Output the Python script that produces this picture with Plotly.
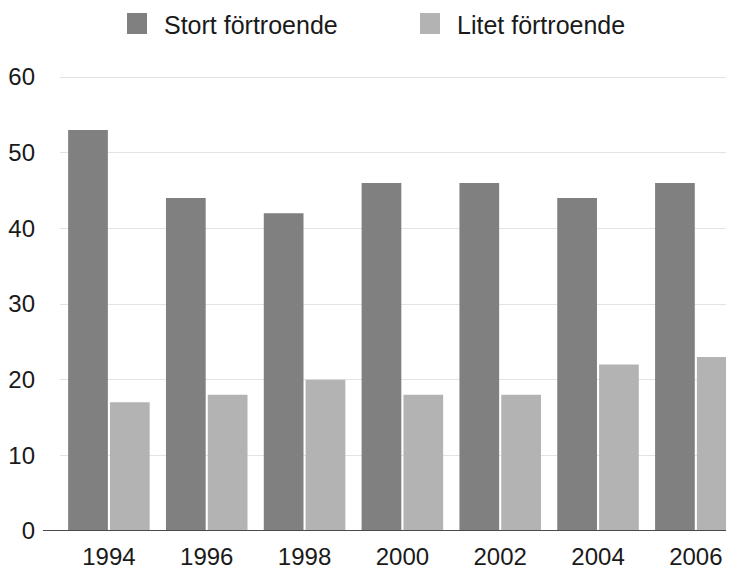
import plotly.graph_objects as go

years = ["1994", "1996", "1998", "2000", "2002", "2004", "2006"]
stort = [53, 44, 42, 46, 46, 44, 46]
litet = [17, 18, 20, 18, 18, 22, 23]
series_names = ["Stort förtroende", "Litet förtroende"]
y_ticks = [0, 10, 20, 30, 40, 50, 60]

dark = "#808080"
light = "#b3b3b3"
font_family = "Liberation Sans, Arial, Helvetica, sans-serif"

fig = go.Figure()
fig.add_trace(go.Bar(x=years, y=stort, name=series_names[0], marker_color=dark,
                     marker_line_width=0, showlegend=False))
fig.add_trace(go.Bar(x=years, y=litet, name=series_names[1], marker_color=light,
                     marker_line_width=0, showlegend=False))

W, H = 734, 570
OFF = 8  # page body margin offset in the screenshot
# desired plot area in screenshot pixels: x 60..734, y (77-EXT)..531
EXT = 3
ppu = (531 - 77) / 60.0
ml = 60 - OFF
mt = 77 - EXT - OFF
mr = W - (734 - OFF)
mb = H - (531 - OFF)
pw, ph = W - ml - mr, H - mt - mb
y_top = 60 + EXT / ppu

def sx(px):  # screenshot x -> paper
    return (px - OFF - ml) / pw

def sy(py):  # screenshot y -> paper
    return (H - mb - (py - OFF)) / ph

shapes = []
annotations = []
legend_items = [(127, series_names[0], dark), (420, series_names[1], light)]
for x0, name, col in legend_items:
    shapes.append(dict(type="rect", xref="paper", yref="paper",
                       x0=sx(x0), x1=sx(x0 + 20), y0=sy(34), y1=sy(13),
                       fillcolor=col, line_width=0))
    annotations.append(dict(xref="paper", yref="paper", x=sx(x0 + 35),
                            y=sy(25), text=name, showarrow=False,
                            xanchor="left", yanchor="middle",
                            font=dict(size=25, color="#1a1a1a", family=font_family)))
shapes.append(dict(type="line", xref="paper", yref="y",
                   x0=sx(43), x1=1, y0=0, y1=0,
                   line=dict(color="#4a4a4a", width=2)))

fig.update_layout(
    width=W, height=H,
    margin=dict(l=ml, r=mr, t=mt, b=mb, autoexpand=False),
    paper_bgcolor="white", plot_bgcolor="white",
    barmode="group", bargap=0.145, bargroupgap=0.05,
    font=dict(family=font_family, size=24, color="#1a1a1a"),
    shapes=shapes, annotations=annotations,
    xaxis=dict(range=[-0.5, 6.39], showgrid=False, showline=False, ticks="",
               automargin=False, ticklabelstandoff=9, tickfont=dict(size=24)),
    yaxis=dict(range=[0, y_top], tickvals=y_ticks, showgrid=True, gridcolor="#e3e3e3",
               gridwidth=1, zeroline=False, showline=False, ticks="",
               automargin=False, ticklabelstandoff=24, tickfont=dict(size=24)),
)

fig.write_html("out.html")
